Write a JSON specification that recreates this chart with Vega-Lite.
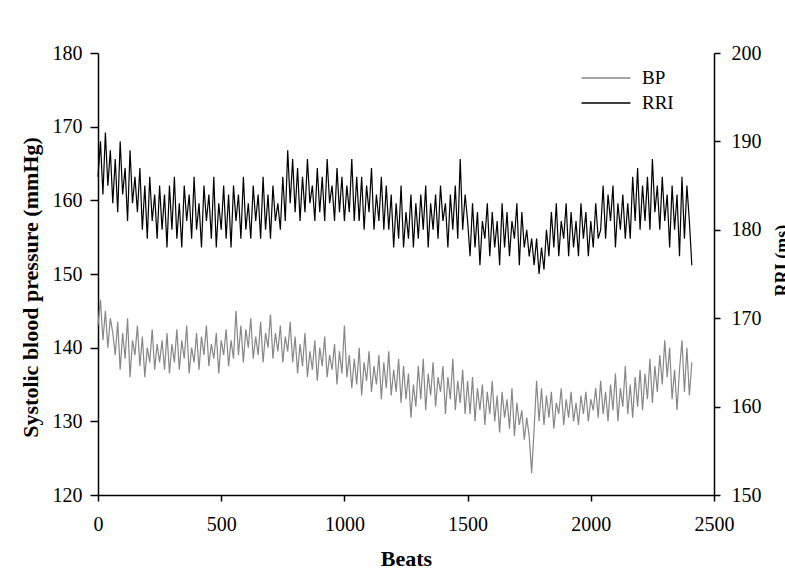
{
"$schema": "https://vega.github.io/schema/vega-lite/v6.json",
"width": 616, "height": 442,
"autosize": {"type": "none"},
"padding": {"left": 98, "top": 53, "right": 71, "bottom": 74},
"background": "white",
"config": {"font": "Liberation Serif", "view": {"stroke": null},
 "axis": {"grid": false, "domainColor": "black", "tickColor": "black", "labelColor": "black", "titleColor": "black", "labelFont": "Liberation Serif", "titleFont": "Liberation Serif", "labelFontSize": 20, "titleFontSize": 22, "titleFontWeight": "bold", "domainWidth": 1.5, "tickWidth": 1.5, "labelFlush": false}},
"data": {"values": [
{"beat":0,"bp":143,"rri":186},{"beat":10,"bp":146.5,"rri":190},{"beat":20,"bp":141,"rri":184},{"beat":30,"bp":145,"rri":191},{"beat":40,"bp":140,"rri":185},{"beat":50,"bp":144,"rri":189},{"beat":60,"bp":142,"rri":183},
{"beat":70,"bp":139,"rri":188},{"beat":80,"bp":143.5,"rri":182},{"beat":90,"bp":137,"rri":190},{"beat":100,"bp":142,"rri":184},{"beat":110,"bp":138.5,"rri":187},{"beat":120,"bp":144,"rri":181},{"beat":130,"bp":136,"rri":189},{"beat":140,"bp":141,"rri":183},{"beat":150,"bp":139,"rri":186},
{"beat":160,"bp":143,"rri":182},{"beat":170,"bp":137.5,"rri":187},{"beat":180,"bp":141.5,"rri":180},{"beat":190,"bp":136,"rri":185},{"beat":200,"bp":140,"rri":179},{"beat":210,"bp":138,"rri":186},{"beat":220,"bp":142.5,"rri":181},{"beat":230,"bp":137,"rri":184},{"beat":240,"bp":140.5,"rri":179},{"beat":250,"bp":138,"rri":185},{"beat":260,"bp":141,"rri":180},
{"beat":270,"bp":137,"rri":184},{"beat":280,"bp":142,"rri":178},{"beat":290,"bp":136.5,"rri":185},{"beat":300,"bp":140.5,"rri":180},{"beat":310,"bp":138,"rri":186},{"beat":320,"bp":142.5,"rri":179},{"beat":330,"bp":137,"rri":183},{"beat":340,"bp":141,"rri":178},{"beat":350,"bp":138.5,"rri":185},{"beat":360,"bp":143,"rri":181},
{"beat":370,"bp":136.5,"rri":184},{"beat":380,"bp":140,"rri":179},{"beat":390,"bp":138,"rri":186},{"beat":400,"bp":142,"rri":180},{"beat":410,"bp":137,"rri":183},{"beat":420,"bp":141.5,"rri":178},{"beat":430,"bp":139,"rri":185},{"beat":440,"bp":143,"rri":181},{"beat":450,"bp":137.5,"rri":184},{"beat":460,"bp":140.5,"rri":179},
{"beat":470,"bp":138.5,"rri":186},{"beat":480,"bp":142,"rri":178},{"beat":490,"bp":136.5,"rri":183},{"beat":500,"bp":141,"rri":180},{"beat":510,"bp":139,"rri":185},{"beat":520,"bp":142.5,"rri":179},{"beat":530,"bp":137.5,"rri":184},{"beat":540,"bp":141,"rri":178},{"beat":550,"bp":138.5,"rri":185},{"beat":560,"bp":145,"rri":181},
{"beat":570,"bp":139,"rri":184},{"beat":580,"bp":143,"rri":179},{"beat":590,"bp":138,"rri":186},{"beat":600,"bp":142.5,"rri":180},{"beat":610,"bp":140,"rri":183},{"beat":620,"bp":144,"rri":179},{"beat":630,"bp":138.5,"rri":185},{"beat":640,"bp":141.5,"rri":181},{"beat":650,"bp":139,"rri":184},{"beat":660,"bp":143.5,"rri":179},
{"beat":670,"bp":138,"rri":186},{"beat":680,"bp":142,"rri":180},{"beat":690,"bp":140,"rri":184},{"beat":700,"bp":144.5,"rri":179},{"beat":710,"bp":138.5,"rri":185},{"beat":720,"bp":142,"rri":181},{"beat":730,"bp":139.5,"rri":183},{"beat":740,"bp":143,"rri":180},
{"beat":750,"bp":138,"rri":186},{"beat":760,"bp":141.5,"rri":181},{"beat":770,"bp":139.5,"rri":189},{"beat":780,"bp":143.5,"rri":183},{"beat":790,"bp":138,"rri":188},{"beat":800,"bp":141.5,"rri":182},{"beat":810,"bp":136.5,"rri":187},{"beat":820,"bp":140.5,"rri":181},{"beat":830,"bp":137.5,"rri":186},{"beat":840,"bp":142,"rri":182},
{"beat":850,"bp":136,"rri":188},{"beat":860,"bp":139.5,"rri":183},{"beat":870,"bp":137,"rri":185},{"beat":880,"bp":141,"rri":181},{"beat":890,"bp":135.5,"rri":187},{"beat":900,"bp":140,"rri":182},{"beat":910,"bp":137.5,"rri":186},{"beat":920,"bp":141.5,"rri":181},{"beat":930,"bp":136,"rri":188},{"beat":940,"bp":139,"rri":183},
{"beat":950,"bp":137,"rri":185},{"beat":960,"bp":140.5,"rri":181},{"beat":970,"bp":135,"rri":187},{"beat":980,"bp":139.5,"rri":182},{"beat":990,"bp":136.5,"rri":186},{"beat":1000,"bp":143,"rri":181},{"beat":1010,"bp":136,"rri":185},{"beat":1020,"bp":139,"rri":182},{"beat":1030,"bp":134.5,"rri":188},{"beat":1040,"bp":138.5,"rri":181},{"beat":1050,"bp":135,"rri":186},
{"beat":1060,"bp":140,"rri":181},{"beat":1070,"bp":133.5,"rri":186},{"beat":1080,"bp":138,"rri":180},{"beat":1090,"bp":135.5,"rri":185},{"beat":1100,"bp":139.5,"rri":182},{"beat":1110,"bp":134,"rri":187},{"beat":1120,"bp":137.5,"rri":180},{"beat":1130,"bp":135,"rri":184},{"beat":1140,"bp":139,"rri":181},{"beat":1150,"bp":133,"rri":186},{"beat":1160,"bp":138,"rri":180},{"beat":1170,"bp":134.5,"rri":185},
{"beat":1180,"bp":139.5,"rri":180},{"beat":1190,"bp":133.5,"rri":184},{"beat":1200,"bp":137,"rri":178},{"beat":1210,"bp":134,"rri":183},{"beat":1220,"bp":138.5,"rri":179},{"beat":1230,"bp":132.5,"rri":185},{"beat":1240,"bp":137.5,"rri":178},{"beat":1250,"bp":133,"rri":182},{"beat":1260,"bp":136.5,"rri":179},{"beat":1270,"bp":130.5,"rri":184},{"beat":1280,"bp":135,"rri":178},{"beat":1290,"bp":132,"rri":183},
{"beat":1300,"bp":137.5,"rri":179},{"beat":1310,"bp":133,"rri":184},{"beat":1320,"bp":138.5,"rri":180},{"beat":1330,"bp":131.5,"rri":185},{"beat":1340,"bp":136.5,"rri":178},{"beat":1350,"bp":133.5,"rri":183},{"beat":1360,"bp":138,"rri":180},{"beat":1370,"bp":132,"rri":184},{"beat":1380,"bp":136,"rri":179},{"beat":1390,"bp":134,"rri":185},
{"beat":1400,"bp":137.5,"rri":181},{"beat":1410,"bp":131,"rri":183},{"beat":1420,"bp":136,"rri":178},{"beat":1430,"bp":133,"rri":184},{"beat":1440,"bp":138.5,"rri":180},{"beat":1450,"bp":131.5,"rri":185},{"beat":1460,"bp":135.5,"rri":179},{"beat":1470,"bp":132.5,"rri":188},{"beat":1480,"bp":137,"rri":180},{"beat":1490,"bp":131,"rri":184},
{"beat":1500,"bp":135.5,"rri":181},{"beat":1510,"bp":131,"rri":177},{"beat":1520,"bp":136,"rri":183},{"beat":1530,"bp":130,"rri":178},{"beat":1540,"bp":134.5,"rri":182},{"beat":1550,"bp":131.5,"rri":176},{"beat":1560,"bp":135,"rri":181},{"beat":1570,"bp":129.5,"rri":179},{"beat":1580,"bp":134,"rri":183},{"beat":1590,"bp":131,"rri":177},
{"beat":1600,"bp":135.5,"rri":182},{"beat":1610,"bp":130,"rri":178},{"beat":1620,"bp":133.5,"rri":181},{"beat":1630,"bp":128.5,"rri":176},{"beat":1640,"bp":134,"rri":183},{"beat":1650,"bp":130.5,"rri":178},{"beat":1660,"bp":133,"rri":182},{"beat":1670,"bp":129,"rri":177},{"beat":1680,"bp":134.5,"rri":181},{"beat":1690,"bp":128,"rri":179},
{"beat":1700,"bp":132.5,"rri":183},{"beat":1710,"bp":129.5,"rri":176},{"beat":1720,"bp":131.5,"rri":182},{"beat":1730,"bp":127.5,"rri":178},{"beat":1740,"bp":130.5,"rri":180},{"beat":1750,"bp":128,"rri":177},{"beat":1760,"bp":123,"rri":179},
{"beat":1770,"bp":129,"rri":176},{"beat":1780,"bp":135.5,"rri":179},{"beat":1790,"bp":130,"rri":175},{"beat":1800,"bp":134.5,"rri":178},{"beat":1810,"bp":129.5,"rri":175.5},{"beat":1820,"bp":133.5,"rri":180},
{"beat":1830,"bp":130.5,"rri":177},{"beat":1840,"bp":134,"rri":182},{"beat":1850,"bp":129,"rri":178},{"beat":1860,"bp":132.5,"rri":183},{"beat":1870,"bp":131,"rri":177},{"beat":1880,"bp":134.5,"rri":181},{"beat":1890,"bp":129.5,"rri":179},{"beat":1900,"bp":133,"rri":183},{"beat":1910,"bp":130.5,"rri":177},{"beat":1920,"bp":134,"rri":182},
{"beat":1930,"bp":130,"rri":178},{"beat":1940,"bp":132.5,"rri":181},{"beat":1950,"bp":129.5,"rri":177},{"beat":1960,"bp":133.5,"rri":183},{"beat":1970,"bp":131,"rri":179},{"beat":1980,"bp":134,"rri":182},{"beat":1990,"bp":130,"rri":177},{"beat":2000,"bp":133,"rri":181},{"beat":2010,"bp":131.5,"rri":178},{"beat":2020,"bp":134.5,"rri":183},{"beat":2030,"bp":130.5,"rri":179},
{"beat":2040,"bp":135.5,"rri":180},{"beat":2050,"bp":131,"rri":185},{"beat":2060,"bp":134,"rri":179},{"beat":2070,"bp":130,"rri":184},{"beat":2080,"bp":135,"rri":181},{"beat":2090,"bp":131.5,"rri":185},{"beat":2100,"bp":136.5,"rri":178},{"beat":2110,"bp":130,"rri":183},{"beat":2120,"bp":134.5,"rri":180},{"beat":2130,"bp":132,"rri":184},{"beat":2140,"bp":137.5,"rri":179},
{"beat":2150,"bp":131,"rri":183},{"beat":2160,"bp":135,"rri":179},{"beat":2170,"bp":130.5,"rri":186},{"beat":2180,"bp":136,"rri":181},{"beat":2190,"bp":132,"rri":187},{"beat":2200,"bp":137,"rri":180},{"beat":2210,"bp":131.5,"rri":185},{"beat":2220,"bp":136.5,"rri":181},{"beat":2230,"bp":133,"rri":186},{"beat":2240,"bp":138.5,"rri":180},
{"beat":2250,"bp":132.5,"rri":188},{"beat":2260,"bp":137.5,"rri":182},{"beat":2270,"bp":134,"rri":185},{"beat":2280,"bp":139,"rri":180},{"beat":2290,"bp":135,"rri":186},{"beat":2300,"bp":141,"rri":181},{"beat":2310,"bp":136,"rri":184},{"beat":2320,"bp":140,"rri":178},{"beat":2330,"bp":133,"rri":185},{"beat":2340,"bp":137,"rri":180},
{"beat":2350,"bp":131.5,"rri":184},{"beat":2360,"bp":137,"rri":177},{"beat":2370,"bp":141,"rri":186},{"beat":2380,"bp":134,"rri":179},{"beat":2390,"bp":140,"rri":185},{"beat":2400,"bp":133.5,"rri":181},{"beat":2410,"bp":138,"rri":176}
]},
"encoding": {"x": {"field": "beat", "type": "quantitative", "scale": {"domain": [0, 2500], "nice": false},
  "axis": {"title": "Beats", "values": [0, 500, 1000, 1500, 2000, 2500], "format": "d", "tickSize": 6, "labelPadding": 13, "titleY": 70, "titleBaseline": "alphabetic"}}},
"layer": [
 {"mark": {"type": "line", "strokeWidth": 1.2},
  "encoding": {
   "y": {"field": "bp", "type": "quantitative", "scale": {"domain": [120, 180], "nice": false, "zero": false},
    "axis": {"title": "Systolic blood pressure (mmHg)", "values": [120, 130, 140, 150, 160, 170, 180], "tickSize": 8, "labelPadding": 8, "titleAngle": 270, "titleX": -61, "titleY": 234, "titleBaseline": "alphabetic", "titleAlign": "center"}},
   "color": {"datum": "BP", "type": "nominal", "scale": {"domain": ["BP", "RRI"], "range": ["#878787", "#000000"]},
    "legend": {"title": null, "orient": "none", "legendX": 495, "legendY": 12, "symbolType": "M-2,0H2", "symbolSize": 600, "symbolStrokeWidth": 1.5, "labelFontSize": 19, "labelFont": "Liberation Serif", "labelColor": "black", "labelOffset": 23, "rowPadding": 2, "padding": 0}}}},
 {"mark": {"type": "line", "strokeWidth": 1.2},
  "encoding": {
   "y": {"field": "rri", "type": "quantitative", "scale": {"domain": [150, 200], "nice": false, "zero": false},
    "axis": {"orient": "right", "title": "RRI (ms)", "values": [150, 160, 170, 180, 190, 200], "tickSize": 6, "labelPadding": 11, "titleFontSize": 18, "titleAngle": 270, "titleX": 73, "titleY": 207, "titleBaseline": "alphabetic", "titleAlign": "center"}},
   "color": {"datum": "RRI", "type": "nominal"}}}
],
"resolve": {"scale": {"y": "independent"}}
}
